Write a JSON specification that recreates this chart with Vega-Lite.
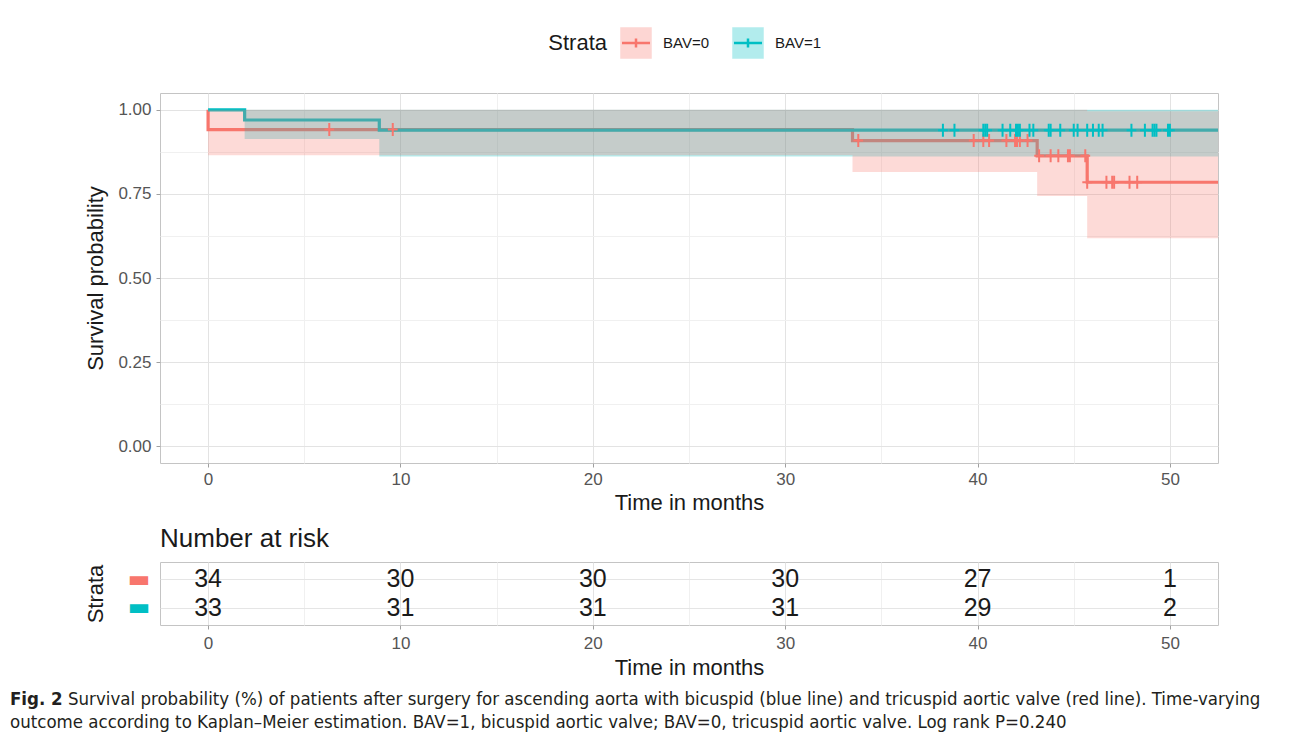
{
  "$schema": "https://vega.github.io/schema/vega-lite/v6.json",
  "padding": {"left": 10, "top": 5, "right": 0, "bottom": 0},
  "background": "white",
  "spacing": 11,
  "config": {
    "font": "Liberation Sans",
    "view": {"stroke": "#C4C4C4"},
    "axis": {
      "domain": false,
      "tickColor": "#A0A0A0",
      "tickSize": 4,
      "labelColor": "#555555",
      "labelFontSize": 17,
      "titleFontSize": 22,
      "titleFontWeight": "normal",
      "titleColor": "#1A1A1A",
      "gridColor": "#E5E5E5"
    },
    "title": {"fontWeight": "normal", "color": "#1A1A1A"}
  },
  "datasets": {
    "curves": [
      {"strata": "BAV=0", "i": 0, "t": 0, "s": 1},
      {"strata": "BAV=0", "i": 1, "t": 0, "s": 0.9412},
      {"strata": "BAV=0", "i": 2, "t": 33.5, "s": 0.9085},
      {"strata": "BAV=0", "i": 3, "t": 43.1, "s": 0.8631},
      {"strata": "BAV=0", "i": 4, "t": 45.7, "s": 0.7846},
      {"strata": "BAV=0", "i": 5, "t": 52.5, "s": 0.7846},
      {"strata": "BAV=1", "i": 0, "t": 0, "s": 1},
      {"strata": "BAV=1", "i": 1, "t": 1.9, "s": 0.9697},
      {"strata": "BAV=1", "i": 2, "t": 8.9, "s": 0.9394},
      {"strata": "BAV=1", "i": 3, "t": 52.5, "s": 0.9394}
    ],
    "bands": [
      {"strata": "BAV=0", "t": 0, "lo": 0.865, "hi": 1},
      {"strata": "BAV=0", "t": 33.5, "lo": 0.815, "hi": 1},
      {"strata": "BAV=0", "t": 43.1, "lo": 0.744, "hi": 1},
      {"strata": "BAV=0", "t": 45.7, "lo": 0.618, "hi": 0.996},
      {"strata": "BAV=0", "t": 52.5, "lo": 0.618, "hi": 0.996},
      {"strata": "BAV=1", "t": 1.9, "lo": 0.913, "hi": 1},
      {"strata": "BAV=1", "t": 8.9, "lo": 0.861, "hi": 1},
      {"strata": "BAV=1", "t": 52.5, "lo": 0.861, "hi": 1}
    ],
    "censors": [
      {"strata": "BAV=0", "t": 6.3, "s": 0.9412},
      {"strata": "BAV=0", "t": 9.6, "s": 0.9412},
      {"strata": "BAV=0", "t": 33.8, "s": 0.9085},
      {"strata": "BAV=0", "t": 39.8, "s": 0.9085},
      {"strata": "BAV=0", "t": 40.3, "s": 0.9085},
      {"strata": "BAV=0", "t": 40.6, "s": 0.9085},
      {"strata": "BAV=0", "t": 41.5, "s": 0.9085},
      {"strata": "BAV=0", "t": 41.95, "s": 0.9085},
      {"strata": "BAV=0", "t": 42.05, "s": 0.9085},
      {"strata": "BAV=0", "t": 42.2, "s": 0.9085},
      {"strata": "BAV=0", "t": 42.6, "s": 0.9085},
      {"strata": "BAV=0", "t": 43.2, "s": 0.8631},
      {"strata": "BAV=0", "t": 43.8, "s": 0.8631},
      {"strata": "BAV=0", "t": 44.2, "s": 0.8631},
      {"strata": "BAV=0", "t": 44.7, "s": 0.8631},
      {"strata": "BAV=0", "t": 44.8, "s": 0.8631},
      {"strata": "BAV=0", "t": 45.6, "s": 0.8631},
      {"strata": "BAV=0", "t": 45.7, "s": 0.7846},
      {"strata": "BAV=0", "t": 46.7, "s": 0.7846},
      {"strata": "BAV=0", "t": 47.0, "s": 0.7846},
      {"strata": "BAV=0", "t": 47.1, "s": 0.7846},
      {"strata": "BAV=0", "t": 47.9, "s": 0.7846},
      {"strata": "BAV=0", "t": 48.3, "s": 0.7846},
      {"strata": "BAV=1", "t": 38.2, "s": 0.9394},
      {"strata": "BAV=1", "t": 38.8, "s": 0.9394},
      {"strata": "BAV=1", "t": 40.3, "s": 0.9394},
      {"strata": "BAV=1", "t": 40.4, "s": 0.9394},
      {"strata": "BAV=1", "t": 40.5, "s": 0.9394},
      {"strata": "BAV=1", "t": 41.3, "s": 0.9394},
      {"strata": "BAV=1", "t": 41.7, "s": 0.9394},
      {"strata": "BAV=1", "t": 42.0, "s": 0.9394},
      {"strata": "BAV=1", "t": 42.1, "s": 0.9394},
      {"strata": "BAV=1", "t": 42.2, "s": 0.9394},
      {"strata": "BAV=1", "t": 42.7, "s": 0.9394},
      {"strata": "BAV=1", "t": 42.9, "s": 0.9394},
      {"strata": "BAV=1", "t": 43.7, "s": 0.9394},
      {"strata": "BAV=1", "t": 43.8, "s": 0.9394},
      {"strata": "BAV=1", "t": 44.3, "s": 0.9394},
      {"strata": "BAV=1", "t": 45.0, "s": 0.9394},
      {"strata": "BAV=1", "t": 45.2, "s": 0.9394},
      {"strata": "BAV=1", "t": 45.7, "s": 0.9394},
      {"strata": "BAV=1", "t": 46.0, "s": 0.9394},
      {"strata": "BAV=1", "t": 46.3, "s": 0.9394},
      {"strata": "BAV=1", "t": 46.5, "s": 0.9394},
      {"strata": "BAV=1", "t": 48.0, "s": 0.9394},
      {"strata": "BAV=1", "t": 48.7, "s": 0.9394},
      {"strata": "BAV=1", "t": 49.1, "s": 0.9394},
      {"strata": "BAV=1", "t": 49.2, "s": 0.9394},
      {"strata": "BAV=1", "t": 49.3, "s": 0.9394},
      {"strata": "BAV=1", "t": 49.9, "s": 0.9394},
      {"strata": "BAV=1", "t": 50.0, "s": 0.9394}
    ],
    "risk": [
      {"strata": "BAV=0", "t": 0, "n": 34},
      {"strata": "BAV=0", "t": 10, "n": 30},
      {"strata": "BAV=0", "t": 20, "n": 30},
      {"strata": "BAV=0", "t": 30, "n": 30},
      {"strata": "BAV=0", "t": 40, "n": 27},
      {"strata": "BAV=0", "t": 50, "n": 1},
      {"strata": "BAV=1", "t": 0, "n": 33},
      {"strata": "BAV=1", "t": 10, "n": 31},
      {"strata": "BAV=1", "t": 20, "n": 31},
      {"strata": "BAV=1", "t": 30, "n": 31},
      {"strata": "BAV=1", "t": 40, "n": 29},
      {"strata": "BAV=1", "t": 50, "n": 2}
    ],
    "keys": [{"strata": "BAV=0"}, {"strata": "BAV=1"}],
    "caption": [
      {"seg": "lead", "line": "1", "bold": true, "txt": "Fig. 2"},
      {"seg": "body", "line": "1", "bold": false, "txt": "Survival probability (%) of patients after surgery for ascending aorta with bicuspid (blue line) and tricuspid aortic valve (red line). Time-varying"},
      {"seg": "lead", "line": "2", "bold": false, "txt": "outcome according to Kaplan–Meier estimation. BAV=1, bicuspid aortic valve; BAV=0, tricuspid aortic valve. Log rank P=0.240"}
    ]
  },
  "vconcat": [
    {
      "width": 1058,
      "height": 76,
      "view": {"stroke": null},
      "data": {"name": "keys"},
      "encoding": {
        "x": {"field": "strata", "type": "nominal", "scale": {"type": "point", "padding": 0, "domain": ["BAV=0", "BAV=1"], "range": [476, 588]}, "axis": null},
        "color": {"field": "strata", "type": "nominal", "scale": {"domain": ["BAV=0", "BAV=1"], "range": ["#F8766D", "#00BFC4"]}, "legend": null}
      },
      "layer": [
        {"mark": {"type": "point", "shape": "square", "size": 992, "filled": true, "opacity": 0.3, "strokeWidth": 0}},
        {"mark": {"type": "point", "shape": "M-1,0H1M0,-0.32V0.32", "size": 784, "strokeWidth": 2.5, "filled": false, "opacity": 1}},
        {"mark": {"type": "text", "align": "left", "dx": 27, "fontSize": 15, "color": "#1A1A1A"}, "encoding": {"text": {"field": "strata"}, "color": {"value": "#1A1A1A"}}},
        {"transform": [{"filter": "datum.strata === 'BAV=0'"}], "mark": {"type": "text", "align": "right", "dx": -29, "fontSize": 22, "text": "Strata"}, "encoding": {"color": {"value": "#1A1A1A"}}}
      ]
    },
    {
      "width": 1058,
      "height": 370,
      "encoding": {
        "x": {"field": "t", "type": "quantitative", "scale": {"domain": [-2.5, 52.5], "nice": false, "zero": false},
          "axis": {"title": "Time in months", "values": [0, 5, 10, 15, 20, 25, 30, 35, 40, 45, 50],
            "labelExpr": "datum.value % 10 === 0 ? datum.label : ''",
            "tickOpacity": {"condition": {"test": "datum.value % 10 === 0", "value": 1}, "value": 0},
            "gridColor": {"condition": {"test": "datum.value % 10 === 0", "value": "#E3E3E3"}, "value": "#F0F0F0"},
            "labelPadding": 4, "titlePadding": 5}},
        "color": {"field": "strata", "type": "nominal", "scale": {"domain": ["BAV=0", "BAV=1"], "range": ["#F8766D", "#00BFC4"]}, "legend": null}
      },
      "layer": [
        {
          "data": {"name": "curves"},
          "mark": {"type": "line", "interpolate": "step-after", "strokeWidth": 3.2, "clip": true},
          "encoding": {
            "y": {"field": "s", "type": "quantitative", "scale": {"domain": [-0.05, 1.05], "nice": false, "zero": false},
              "axis": {"title": "Survival probability", "values": [0, 0.125, 0.25, 0.375, 0.5, 0.625, 0.75, 0.875, 1],
                "labelExpr": "(datum.value * 4) % 1 === 0 ? format(datum.value, '.2f') : ''",
                "tickOpacity": {"condition": {"test": "(datum.value * 4) % 1 === 0", "value": 1}, "value": 0},
                "gridColor": {"condition": {"test": "(datum.value * 4) % 1 === 0", "value": "#E3E3E3"}, "value": "#F0F0F0"},
                "labelPadding": 5, "titlePadding": 10}},
            "order": {"field": "i", "type": "quantitative"}
          }
        },
        {
          "data": {"name": "bands"},
          "transform": [{"filter": "datum.strata === 'BAV=1'"}],
          "mark": {"type": "area", "interpolate": "step-after", "opacity": 0.3, "clip": true},
          "encoding": {
            "y": {"field": "lo", "type": "quantitative", "stack": null},
            "y2": {"field": "hi"}
          }
        },
        {
          "data": {"name": "bands"},
          "transform": [{"filter": "datum.strata === 'BAV=0'"}],
          "mark": {"type": "area", "interpolate": "step-after", "opacity": 0.27, "clip": true},
          "encoding": {
            "y": {"field": "lo", "type": "quantitative", "stack": null},
            "y2": {"field": "hi"}
          }
        },
        {
          "data": {"name": "censors"},
          "mark": {"type": "point", "shape": "M-0.75,0H0.75M0,-1V1", "size": 169, "strokeWidth": 2, "filled": false, "opacity": 1},
          "encoding": {"y": {"field": "s", "type": "quantitative"}}
        },
        {
          "data": {"values": [{}]},
          "mark": {"type": "text", "text": "p = 0.24", "fontSize": 28, "align": "left", "baseline": "middle", "color": "#000000"},
          "encoding": {"x": {"datum": 3}, "y": {"datum": 0.19}, "color": {"value": "#000000"}}
        }
      ]
    },
    {
      "width": 1058,
      "height": 63,
      "title": {"text": "Number at risk", "anchor": "start", "frame": "group", "fontSize": 26, "offset": 10, "color": "#1A1A1A"},
      "data": {"name": "risk"},
      "mark": {"type": "text", "fontSize": 25, "color": "#1A1A1A"},
      "encoding": {
        "x": {"field": "t", "type": "quantitative", "scale": {"domain": [-2.5, 52.5], "nice": false, "zero": false},
          "axis": {"title": "Time in months", "values": [0, 5, 10, 15, 20, 25, 30, 35, 40, 45, 50],
            "labelExpr": "datum.value % 10 === 0 ? datum.label : ''",
            "tickOpacity": {"condition": {"test": "datum.value % 10 === 0", "value": 1}, "value": 0},
            "gridColor": {"condition": {"test": "datum.value % 10 === 0", "value": "#E3E3E3"}, "value": "#F0F0F0"},
            "labelPadding": 6, "titlePadding": 6}},
        "y": {"field": "strata", "type": "nominal", "scale": {"type": "point", "padding": 0.6, "domain": ["BAV=0", "BAV=1"]},
          "axis": {"title": "Strata", "grid": true, "ticks": false, "labelExpr": "'▬'", "labelFont": "DejaVu Sans", "labelFontSize": 24, "labelFontWeight": "bold",
            "labelColor": {"condition": {"test": "datum.value === 'BAV=0'", "value": "#F8766D"}, "value": "#00BFC4"},
            "labelPadding": 10, "titlePadding": 20}},
        "text": {"field": "n", "type": "quantitative"}
      }
    },
    {
      "width": 1058,
      "height": 40,
      "view": {"stroke": null},
      "data": {"name": "caption"},
      "encoding": {
        "x": {"field": "seg", "type": "nominal", "scale": {"type": "point", "padding": 0, "domain": ["lead", "body"], "range": [-150, -92]}, "axis": null},
        "y": {"field": "line", "type": "nominal", "scale": {"type": "point", "padding": 0, "domain": ["1", "2"], "range": [8, 31]}, "axis": null},
        "text": {"field": "txt"}
      },
      "layer": [
        {"transform": [{"filter": "datum.bold"}],
         "mark": {"type": "text", "align": "left", "baseline": "middle", "font": "Liberation Sans Narrow, DejaVu Sans Condensed, sans-serif", "fontSize": 18.5, "fontWeight": "bold", "color": "#231F20"}},
        {"transform": [{"filter": "!datum.bold"}],
         "mark": {"type": "text", "align": "left", "baseline": "middle", "font": "Liberation Sans Narrow, DejaVu Sans Condensed, sans-serif", "fontSize": 18.5, "color": "#231F20"}}
      ]
    }
  ]
}
